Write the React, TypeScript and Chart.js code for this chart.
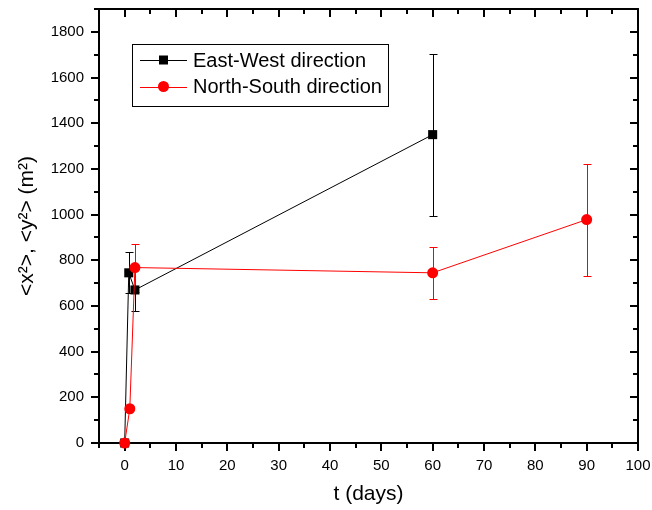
import React, { useEffect, useRef } from 'react';
import { Chart, registerables } from 'chart.js';

Chart.register(...registerables);

// ---- data ----
const seriesLabels = ['East-West direction', 'North-South direction'];
const seriesColors = ['#000000', '#ff0000'];

const ewDays = [0, 0.8, 2, 60];
const ewValues = [0, 745, 670, 1350];
const ewErrors = [0, 90, 90, 355];

const nsDays = [0, 1, 2, 60, 90];
const nsValues = [0, 150, 768, 745, 978];
const nsErrors = [0, 0, 105, 115, 245];

const xTickValues = [0, 10, 20, 30, 40, 50, 60, 70, 80, 90, 100];
const yTickValues = [0, 200, 400, 600, 800, 1000, 1200, 1400, 1600, 1800];

const xMin = -5;
const xMax = 100;
const xMinorStep = 5;
const yMin = 0;
const yMax = 1900;
const yMinorStep = 100;

const xTitle = 't (days)';
const yTitle = '<x²>, <y²> (m²)';

const FONT = "'Liberation Sans', Arial, sans-serif";

const framePlugin = {
  id: 'frame',
  beforeDatasetsDraw(chart: any) {
    const { ctx, chartArea } = chart;
    const xs = chart.scales.x;
    const ys = chart.scales.y;
    const { left, right, top, bottom } = chartArea;
    ctx.save();
    ctx.strokeStyle = '#000';
    ctx.lineWidth = 2;
    ctx.strokeRect(left, top, right - left, bottom - top);
    const major = 8;
    const minor = 5;
    ctx.beginPath();
    for (let v = xMin; v <= xMax + 1e-9; v += xMinorStep) {
      const px = Math.round(xs.getPixelForValue(v));
      const len = xTickValues.includes(v) ? major : minor;
      ctx.moveTo(px, bottom);
      ctx.lineTo(px, bottom + len);
      ctx.moveTo(px, top);
      ctx.lineTo(px, top + len);
    }
    for (let v = yMin; v <= yMax + 1e-9; v += yMinorStep) {
      const py = Math.round(ys.getPixelForValue(v));
      const len = yTickValues.includes(v) ? major : minor;
      ctx.moveTo(left, py);
      ctx.lineTo(left - len, py);
      ctx.moveTo(right, py);
      ctx.lineTo(right - len, py);
    }
    ctx.stroke();
    ctx.restore();
  },
};

const errorBarPlugin = {
  id: 'errorBars',
  beforeDatasetsDraw(chart: any) {
    const { ctx } = chart;
    const xs = chart.scales.x;
    const ys = chart.scales.y;
    chart.data.datasets.forEach((ds: any) => {
      const errs: number[] = ds.errors;
      if (!errs) return;
      ctx.save();
      ctx.strokeStyle = ds.borderColor;
      ctx.lineWidth = 1;
      ds.data.forEach((p: any, i: number) => {
        const e = errs[i];
        if (!e) return;
        const px = Math.round(xs.getPixelForValue(p.x)) + 0.5;
        const t = Math.round(ys.getPixelForValue(p.y + e)) + 0.5;
        const b = Math.round(ys.getPixelForValue(p.y - e)) + 0.5;
        ctx.beginPath();
        ctx.moveTo(px, t);
        ctx.lineTo(px, b);
        ctx.moveTo(px - 4, t);
        ctx.lineTo(px + 4, t);
        ctx.moveTo(px - 4, b);
        ctx.lineTo(px + 4, b);
        ctx.stroke();
      });
      ctx.restore();
    });
  },
};

const legendPlugin = {
  id: 'customLegend',
  afterDraw(chart: any) {
    const { ctx } = chart;
    ctx.save();
    const bx = 132.5, by = 44.5, bw = 256, bh = 62;
    ctx.fillStyle = '#fff';
    ctx.fillRect(bx, by, bw, bh);
    ctx.strokeStyle = '#000';
    ctx.lineWidth = 1;
    ctx.strokeRect(bx, by, bw, bh);
    const rows = [60, 86.5];
    const styles = ['rect', 'circle'];
    seriesLabels.forEach((label, i) => {
      const y = rows[i];
      ctx.strokeStyle = seriesColors[i];
      ctx.lineWidth = 1;
      ctx.beginPath();
      ctx.moveTo(140, Math.round(y) + 0.5);
      ctx.lineTo(187, Math.round(y) + 0.5);
      ctx.stroke();
      ctx.fillStyle = seriesColors[i];
      if (styles[i] === 'rect') {
        ctx.fillRect(159, y - 4.5, 9, 9);
      } else {
        ctx.beginPath();
        ctx.arc(163.5, y, 5.5, 0, Math.PI * 2);
        ctx.fill();
      }
      ctx.fillStyle = '#000';
      ctx.font = `20px ${FONT}`;
      ctx.textBaseline = 'middle';
      ctx.textAlign = 'left';
      ctx.fillText(label, 193, y + 1);
    });
    ctx.restore();
  },
};

export default function App() {
  const canvasRef = useRef<HTMLCanvasElement | null>(null);

  useEffect(() => {
    const canvas = canvasRef.current;
    if (!canvas) return;
    const chart = new Chart(canvas, {
      type: 'line',
      data: {
        datasets: [
          {
            label: seriesLabels[0],
            data: ewDays.map((x, i) => ({ x, y: ewValues[i] })),
            errors: ewErrors,
            borderColor: seriesColors[0],
            backgroundColor: seriesColors[0],
            borderWidth: 1,
            pointStyle: 'rect',
            pointRadius: 6.4,
            pointBorderWidth: 0,
            tension: 0,
            clip: false,
            order: 2,
          } as any,
          {
            label: seriesLabels[1],
            data: nsDays.map((x, i) => ({ x, y: nsValues[i] })),
            errors: nsErrors,
            borderColor: seriesColors[1],
            backgroundColor: seriesColors[1],
            borderWidth: 1,
            pointStyle: 'circle',
            pointRadius: 5.5,
            pointBorderWidth: 0,
            tension: 0,
            clip: false,
            order: 1,
          } as any,
        ],
      },
      options: {
        animation: false,
        responsive: false,
        layout: { padding: { left: 0, top: 9, right: 14, bottom: 0 } },
        plugins: {
          legend: { display: false },
          tooltip: { enabled: false },
        },
        scales: {
          x: {
            type: 'linear',
            min: xMin,
            max: xMax,
            grid: { display: false, drawTicks: false },
            border: { display: false },
            ticks: {
              padding: 14,
              color: '#000',
              font: { family: FONT, size: 15 },
              maxRotation: 0,
              autoSkip: false,
              callback: (v: any) => String(v),
            },
            afterBuildTicks: (scale: any) => {
              scale.ticks = xTickValues.map((value) => ({ value }));
            },
            afterFit: (scale: any) => {
              scale.height = 67;
              scale.paddingLeft = 0;
              scale.paddingRight = 0;
            },
            title: {
              display: true,
              text: xTitle,
              color: '#000',
              font: { family: FONT, size: 21 },
              padding: { top: 0, bottom: 3 },
            },
          },
          y: {
            type: 'linear',
            min: yMin,
            max: yMax,
            grid: { display: false, drawTicks: false },
            border: { display: false },
            ticks: {
              padding: 15,
              color: '#000',
              font: { family: FONT, size: 15 },
              autoSkip: false,
              callback: (v: any) => String(v),
            },
            afterBuildTicks: (scale: any) => {
              scale.ticks = yTickValues.map((value) => ({ value }));
            },
            afterFit: (scale: any) => {
              scale.width = 99;
              scale.paddingTop = 0;
              scale.paddingBottom = 0;
            },
            title: {
              display: true,
              text: yTitle,
              color: '#000',
              font: { family: FONT, size: 21 },
              padding: { top: 15, bottom: 0 },
            },
          },
        },
      } as any,
      plugins: [framePlugin, errorBarPlugin, legendPlugin],
    });
    return () => chart.destroy();
  }, []);

  return (
    <div style={{ position: 'absolute', left: 0, top: 0, width: 652, height: 510, background: '#fff' }}>
      <canvas ref={canvasRef} width={652} height={510} style={{ display: 'block' }} />
    </div>
  );
}
